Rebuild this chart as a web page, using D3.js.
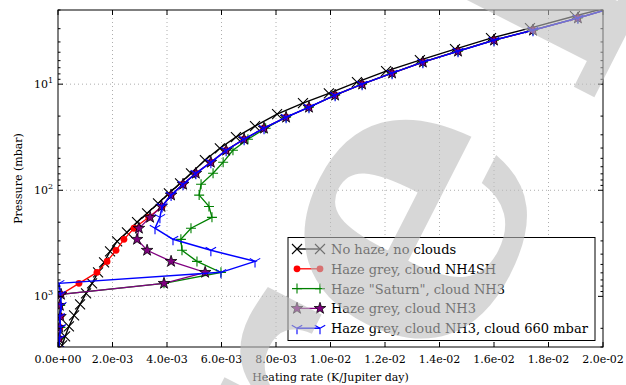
<!DOCTYPE html>
<html><head><meta charset="utf-8">
<script src="https://cdn.jsdelivr.net/npm/d3@7"></script>
<style>body{margin:0;background:#fff}svg{display:block;font-family:"DejaVu Serif",serif}</style>
</head><body>
<svg id="c" width="626" height="385"></svg>
<script>
// ---- data ----
const pGrid = [1.88,2.38,3.10,3.85,4.89,6.20,7.87,10.0,12.7,16.5,20.5,26.0,33.0,42.0,54.5,69.2,87.8,111,142,180,228,290,368,468,594,754,957,1216,1545,1961,2490,3162];
const pBlack = [1.80,2.28,2.96,3.68,4.68,5.94,7.54,9.57,12.2,15.1,19.2,24.9,31.6,40.2,52.1,69.2,85.9,107,133,165,200,249,303,376,477,594,754,937,1189,1510,1919,2384,2898];
const xNoHaze = [0.02051,0.01897,0.01732,0.01589,0.01457,0.01328,0.01204,0.01097,0.00994,0.00899,0.00804,0.00723,0.00653,0.00594,0.00539,0.00488,0.00448,0.00407,0.00367,0.00327,0.00290,0.00253,0.00217,0.00191,0.00169,0.00147,0.00125,0.00103,0.00081,0.00059,0.00040,0.00026,0.00015];
const xNH4SH = [0.02044,0.01908,0.01743,0.0160,0.01468,0.01339,0.01226,0.01116,0.01017,0.00921,0.00837,0.00756,0.00683,0.00617,0.00561,0.00506,0.00459,0.00415,0.00382,0.00333,0.00279,0.00242,0.00213,0.00180,0.00143,0.00077,0.00011,0.00006,0.00010,0.00007,0.00004,0.00003];
const xSaturn = [0.02044,0.01908,0.01743,0.0160,0.01468,0.01339,0.01226,0.01116,0.01017,0.00921,0.00837,0.00762,0.00697,0.00642,0.00606,0.00569,0.00525,0.00518,0.00554,0.00565,0.00488,0.00451,0.00455,0.00510,0.00598,0.00389,0.00011,0.00008,0.00005,0.00009,0.00004,0.00003];
const xNH3 = [0.02044,0.01908,0.01743,0.0160,0.01468,0.01339,0.01226,0.01116,0.01017,0.00921,0.00837,0.00756,0.00683,0.00617,0.00561,0.00506,0.00459,0.00415,0.00380,0.00338,0.00297,0.00290,0.00327,0.00415,0.00540,0.00389,0.00011,0.00007,0.00009,0.00005,0.00004,0.00003];
const xNH3c660 = [0.02044,0.01908,0.01743,0.0160,0.01468,0.01339,0.01226,0.01116,0.01017,0.00921,0.00837,0.00756,0.00683,0.00617,0.00561,0.00506,0.00459,0.00415,0.00382,0.00374,0.00356,0.00422,0.00561,0.00723,0.00598,0.00004,0.00009,0.00012,0.00006,0.00010,0.00005,0.00003];
const seriesNames = ["No haze, no clouds","Haze grey, cloud NH4SH","Haze \"Saturn\", cloud NH3","Haze grey, cloud NH3","Haze grey, cloud NH3, cloud 660 mbar"];
const xTicks = [0,0.002,0.004,0.006,0.008,0.010,0.012,0.014,0.016,0.018,0.020];
const yTicks = [10,100,1000];

// ---- layout ----
const L=58,T=10,R=603,B=347;
const svg=d3.select("#c");
const x=d3.scaleLinear().domain([0,0.02]).range([L,R]);
const y=d3.scaleLog().domain([2.0,3000]).range([T,B]);

const g=svg.append("g");
g.selectAll(".gx").data(xTicks.slice(1,-1)).join("line")
 .attr("x1",d=>x(d)).attr("x2",d=>x(d)).attr("y1",T).attr("y2",B)
 .attr("stroke","#999").attr("stroke-width",0.8).attr("stroke-dasharray","1,3");
g.selectAll(".gy").data(yTicks).join("line")
 .attr("y1",d=>y(d)).attr("y2",d=>y(d)).attr("x1",L).attr("x2",R)
 .attr("stroke","#999").attr("stroke-width",0.8).attr("stroke-dasharray","1,3");

svg.append("clipPath").attr("id","clip").append("rect").attr("x",L).attr("y",T).attr("width",R-L).attr("height",B-T);

const sym={
 x:s=>`M${-s},${-s}L${s},${s}M${-s},${s}L${s},${-s}`,
 plus:s=>`M${-s},0L${s},0M0,${-s}L0,${s}`,
 tri:s=>`M0,0L0,${s}M0,0L${-0.87*s},${-0.5*s}M0,0L${0.87*s},${-0.5*s}`
};
const starPath=d3.symbol().type(d3.symbolStar).size(42)();

const series=[
 {name:seriesNames[0],p:pBlack,v:xNoHaze,color:"#000",lw:1.4,mk:"x"},
 {name:seriesNames[1],p:pGrid,v:xNH4SH,color:"#ff0000",lw:1.3,mk:"circle"},
 {name:seriesNames[2],p:pGrid,v:xSaturn,color:"#008000",lw:1.3,mk:"plus"},
 {name:seriesNames[3],p:pGrid,v:xNH3,color:"#800080",lw:1.3,mk:"star"},
 {name:seriesNames[4],p:pGrid,v:xNH3c660,color:"#0000ff",lw:1.5,mk:"tri"}
];
function drawMarker(sel,s){
 if(s.mk==="circle") sel.append("circle").attr("r",3.4).attr("fill",s.color);
 else if(s.mk==="star") sel.append("path").attr("d",starPath).attr("fill",s.color).attr("stroke","#000").attr("stroke-width",0.8);
 else sel.append("path").attr("d",sym[s.mk](s.mk==="tri"?6:5)).attr("fill","none").attr("stroke",s.color).attr("stroke-width",1.1);
}
const plot=svg.append("g").attr("clip-path","url(#clip)");
series.forEach(s=>{
 const pts=s.v.map((v,i)=>[v,s.p[i]]);
 plot.append("path").datum(pts).attr("fill","none").attr("stroke",s.color).attr("stroke-width",s.lw)
  .attr("d",d3.line().x(d=>x(d[0])).y(d=>y(d[1])));
 pts.forEach(d=>{const m=plot.append("g").attr("transform",`translate(${x(d[0])},${y(d[1])})`);drawMarker(m,s);});
});

svg.append("rect").attr("x",L).attr("y",T).attr("width",R-L).attr("height",B-T).attr("fill","none").attr("stroke","#000").attr("stroke-width",1);

xTicks.forEach(t=>{
 svg.append("line").attr("x1",x(t)).attr("x2",x(t)).attr("y1",B).attr("y2",B-5).attr("stroke","#000");
 svg.append("line").attr("x1",x(t)).attr("x2",x(t)).attr("y1",T).attr("y2",T+5).attr("stroke","#000");
 svg.append("text").attr("x",x(t)).attr("y",B+16).attr("text-anchor","middle").attr("font-size",11).text(t===0?"0.0e+00":d3.format(".1e")(t).replace(/e-(\d)$/,"e-0$1"));
});
const minor=[];
[1,10,100,1000].forEach(dc=>{for(let k=2;k<=9;k++){const v=dc*k;if(v>=2&&v<=3000)minor.push(v);}});
minor.forEach(v=>{
 svg.append("line").attr("x1",L).attr("x2",L+2.5).attr("y1",y(v)).attr("y2",y(v)).attr("stroke","#000");
 svg.append("line").attr("x1",R).attr("x2",R-2.5).attr("y1",y(v)).attr("y2",y(v)).attr("stroke","#000");
});
yTicks.forEach((v,i)=>{
 svg.append("line").attr("x1",L).attr("x2",L+5).attr("y1",y(v)).attr("y2",y(v)).attr("stroke","#000");
 svg.append("line").attr("x1",R).attr("x2",R-5).attr("y1",y(v)).attr("y2",y(v)).attr("stroke","#000");
 const tx=svg.append("text").attr("x",L-5).attr("y",y(v)+4).attr("text-anchor","end").attr("font-size",11);
 tx.append("tspan").text("10");
 tx.append("tspan").attr("dy",-5).attr("font-size",8).text(String(i+1));
});
svg.append("text").attr("x",(L+R)/2).attr("y",381).attr("text-anchor","middle").attr("font-size",11).text("Heating rate (K/Jupiter day)");
svg.append("text").attr("transform",`translate(22,${(T+B)/2}) rotate(-90)`).attr("text-anchor","middle").attr("font-size",11).text("Pressure (mbar)");

const lg=svg.append("g");
lg.append("rect").attr("x",288).attr("y",237.5).attr("width",307).attr("height",103).attr("fill","#fff").attr("stroke","#000").attr("stroke-width",1);
series.forEach((s,i)=>{
 const yy=249+i*19.8;
 lg.append("line").attr("x1",297).attr("x2",320).attr("y1",yy).attr("y2",yy).attr("stroke",s.color).attr("stroke-width",s.lw);
 [297,320].forEach(xx=>{const m=lg.append("g").attr("transform",`translate(${xx},${yy})`);drawMarker(m,s);});
 lg.append("text").attr("x",331).attr("y",yy+5).attr("font-size",13).text(s.name);
});

// watermark
const wm=svg.append("text").attr("transform","translate(222,828) rotate(-63)")
 .attr("font-size",390).attr("font-weight","bold").attr("font-family","DejaVu Serif")
 .attr("fill","#bcbcbc").attr("fill-opacity",0.6);
wm.append("tspan").text("Pre");
wm.append("tspan").attr("dx",60).text("liminary");
</script>
</body></html>
